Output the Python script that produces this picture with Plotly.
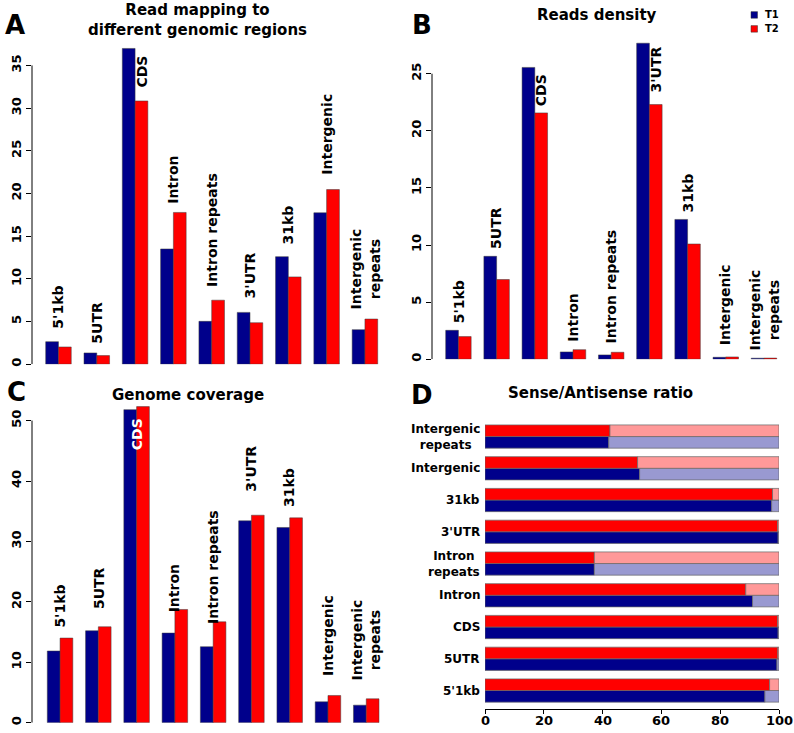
import plotly.graph_objects as go

W, H = 794, 733
FONT = "DejaVu Sans"

# ---------------- data ----------------
regions = ["5'1kb", "5UTR", "CDS", "Intron", "Intron repeats", "3'UTR",
           "31kb", "Intergenic", "Intergenic repeats"]
bar_labels = ["5'1kb", "5UTR", "CDS", "Intron", "Intron repeats", "3'UTR",
              "31kb", "Intergenic", "Intergenic<br>repeats"]
ratio_labels = ["5'1kb", "5UTR", "CDS", "Intron", "Intron<br>repeats", "3'UTR",
                "31kb", "Intergenic", "Intergenic<br>repeats"]

mapping_T1 = [2.64, 1.32, 36.99, 13.5, 5.02, 6.07, 12.6, 17.74, 4.05]
mapping_T2 = [2.02, 1.01, 30.84, 17.78, 7.5, 4.86, 10.23, 20.46, 5.29]

density_T1 = [2.53, 9.01, 25.55, 0.64, 0.38, 27.67, 12.24, 0.17, 0.09]
density_T2 = [1.98, 6.98, 21.57, 0.84, 0.61, 22.3, 10.09, 0.2, 0.1]

coverage_T1 = [11.87, 15.22, 51.81, 14.84, 12.58, 33.41, 32.31, 3.46, 2.91]
coverage_T2 = [14.01, 15.88, 52.31, 18.74, 16.7, 34.34, 33.9, 4.51, 3.96]

sense_T1 = [95.2, 99.3, 99.7, 91.0, 37.2, 99.7, 97.5, 52.6, 42.1]
sense_T2 = [96.8, 99.6, 99.5, 88.7, 37.2, 99.5, 97.8, 51.9, 42.5]

ratio_ticks = [0, 20, 40, 60, 80, 100]
series_names = ["T1", "T2"]

# ---------------- style ----------------
C_T1, C_T2 = "#00008B", "#FF0000"
C_T1_L, C_T2_L = "#9999D1", "#FF9999"
EDGE = dict(color="#3a3a3a", width=0.5)


def px_x(p):
    return p / W


def px_y(p):
    return 1 - p / H


def bold(size, color="black"):
    return dict(family=FONT, size=size, color=color, weight="bold")


fig = go.Figure()

panels = [
    ("x", "y", mapping_T1, mapping_T2),
    ("x2", "y2", density_T1, density_T2),
    ("x3", "y3", coverage_T1, coverage_T2),
]
for xa, ya, v1, v2 in panels:
    fig.add_trace(go.Bar(x=regions, y=v1, name=series_names[0], marker=dict(color=C_T1, line=EDGE),
                         xaxis=xa, yaxis=ya, showlegend=False))
    fig.add_trace(go.Bar(x=regions, y=v2, name=series_names[1], marker=dict(color=C_T2, line=EDGE),
                         xaxis=xa, yaxis=ya, showlegend=False))

# Panel D: sense (dark) + antisense (light) stacked, T1 below T2
bw = 0.366
anti_T1 = [100 - v for v in sense_T1]
anti_T2 = [100 - v for v in sense_T2]
DEDGE = dict(color="#666666", width=0.7)
fig.add_trace(go.Bar(y=regions, x=sense_T1, orientation="h", base=0, width=bw, offset=-bw,
                     marker=dict(color=C_T1, line=DEDGE), xaxis="x4", yaxis="y4", showlegend=False))
fig.add_trace(go.Bar(y=regions, x=anti_T1, orientation="h", base=sense_T1, width=bw, offset=-bw,
                     marker=dict(color=C_T1_L, line=DEDGE), xaxis="x4", yaxis="y4", showlegend=False))
fig.add_trace(go.Bar(y=regions, x=sense_T2, orientation="h", base=0, width=bw, offset=0,
                     marker=dict(color=C_T2, line=DEDGE), xaxis="x4", yaxis="y4", showlegend=False))
fig.add_trace(go.Bar(y=regions, x=anti_T2, orientation="h", base=sense_T2, width=bw, offset=0,
                     marker=dict(color=C_T2_L, line=DEDGE), xaxis="x4", yaxis="y4", showlegend=False))


def cat_range(axis_px, first_bar_px, last_bar_px, right_px):
    u = (last_bar_px - first_bar_px) / (len(regions) - 1 + 2 / 3)
    left = -1 / 3 - (first_bar_px - axis_px) / u
    right = len(regions) - 1 + 1 / 3 + (right_px - last_bar_px) / u
    return [left, right]


def val_range(zero_px, ref_val, ref_px, top_px):
    ppu = (zero_px - ref_px) / ref_val
    return [0, (zero_px - top_px) / ppu]


hid = dict(showgrid=False, zeroline=False, showline=False, showticklabels=False, ticks="")
yax = dict(showgrid=False, zeroline=False, showline=False, ticks="outside", ticklen=5,
           tickwidth=1, tickcolor="black", tickangle=-90, tickfont=bold(13))

fig.update_layout(
    width=W, height=H, margin=dict(l=0, r=0, t=0, b=0),
    paper_bgcolor="white", plot_bgcolor="white",
    barmode="group", bargap=1 / 3, bargroupgap=0,
    font=dict(family=FONT, color="black"),
    showlegend=False,
    xaxis=dict(domain=[px_x(32), px_x(392)], range=cat_range(32, 45.7, 377.7, 392), anchor="y", **hid),
    yaxis=dict(domain=[px_y(365.7), px_y(40)], range=val_range(365.7, 35, 65.7, 40), anchor="x",
               tickvals=list(range(0, 36, 5)), **yax),
    xaxis2=dict(domain=[px_x(432), px_x(790)], range=cat_range(432, 445.7, 776.7, 790), anchor="y2", **hid),
    yaxis2=dict(domain=[px_y(360.7), px_y(40)], range=val_range(360.7, 25, 74, 40), anchor="x2",
                tickvals=list(range(0, 26, 5)), **yax),
    xaxis3=dict(domain=[px_x(32), px_x(392)], range=cat_range(32, 47.3, 379, 392), anchor="y3", **hid),
    yaxis3=dict(domain=[px_y(725.7), px_y(405)], range=val_range(725.7, 50, 422.3, 405), anchor="x3",
                tickvals=list(range(0, 51, 10)), **yax),
    xaxis4=dict(domain=[px_x(485), px_x(779)], range=[0, 100], anchor="y4", showgrid=False, zeroline=False,
                showline=True, linecolor="black", linewidth=1, ticks="outside", ticklen=4,
                tickcolor="black", tickvals=ratio_ticks, showticklabels=False),
    yaxis4=dict(domain=[px_y(712), px_y(422.4)], range=[-0.585, 8.5], type="category", anchor="x4",
                categoryorder="array", categoryarray=regions, **hid),
)

# y axis lines spanning only the tick range (R style)
for ax, xp, top in [("y", 32, 35), ("y2", 432, 25), ("y3", 32, 50)]:
    fig.add_shape(type="line", xref="paper", yref=ax, x0=px_x(xp), x1=px_x(xp), y0=0, y1=top,
                  line=dict(color="black", width=1))

ann = []

# bar labels: (kind, gap px); kind 'top' = above group max, 'red' = above red bar, 'in' = inside
labels_A = [("top", 11), ("top", 7), ("red", 11), ("top", 7), ("top", 11), ("top", 12), ("top", 10), ("top", 13), ("top", 8)]
labels_B = [("top", 5), ("top", 5), ("red", 5), ("top", 6), ("top", 7), ("red", 10), ("top", 5), ("top", 10), ("top", 6)]
labels_C = [("top", 8), ("top", 16), ("in", 7), ("top", -5), ("top", -4), ("top", 22), ("top", 9), ("top", 18), ("top", 16)]

for xa, ya, v1, v2, specs in [("x", "y", mapping_T1, mapping_T2, labels_A),
                              ("x2", "y2", density_T1, density_T2, labels_B),
                              ("x3", "y3", coverage_T1, coverage_T2, labels_C)]:
    for i, (kind, gap) in enumerate(specs):
        if kind == "top":
            ann.append(dict(x=regions[i], y=max(v1[i], v2[i]), xref=xa, yref=ya, text=bar_labels[i],
                            textangle=-90, xanchor="center", yanchor="bottom", yshift=gap,
                            showarrow=False, align="center", font=bold(14)))
        elif kind == "red":
            ann.append(dict(x=regions[i], y=v2[i], xref=xa, yref=ya, text=bar_labels[i],
                            textangle=-90, xanchor="center", yanchor="bottom", yshift=gap, xshift=6.5,
                            showarrow=False, font=bold(14)))
        else:
            ann.append(dict(x=regions[i], y=min(v1[i], v2[i]), xref=xa, yref=ya, text=bar_labels[i],
                            textangle=-90, xanchor="center", yanchor="top", yshift=-gap,
                            showarrow=False, font=bold(14, "white")))

# panel D category labels
for i, lab in enumerate(ratio_labels):
    ann.append(dict(x=px_x(482), y=regions[i], xref="paper", yref="y4", text=lab, xanchor="right",
                    yanchor="middle", align="center", showarrow=False, font=bold(12)))

# panel D x tick labels (placed close to the axis, R style)
for t in ratio_ticks:
    ann.append(dict(x=t, y=px_y(732), xref="x4", yref="paper", text=str(t), xanchor="center",
                    yanchor="bottom", borderpad=0, showarrow=False, font=bold(13)))

# titles
titles = [("Read mapping to<br>different genomic regions", 197, 20.5),
          ("Reads density", 597, 15),
          ("Genome coverage", 188, 397),
          ("Sense/Antisense ratio", 600, 395)]
for t, xp, yp in titles:
    ann.append(dict(x=px_x(xp), y=px_y(yp), xref="paper", yref="paper", text=t, xanchor="center",
                    yanchor="middle", showarrow=False, font=bold(15)))

# panel letters
for t, xp, yp in [("A", 15, 25.5), ("B", 422, 25.5), ("C", 16, 394), ("D", 422, 397)]:
    ann.append(dict(x=px_x(xp), y=px_y(yp), xref="paper", yref="paper", text=t, xanchor="center",
                    yanchor="middle", showarrow=False, font=bold(26)))

# legend (top right of panel B)
for name, col, yp in [(series_names[0], C_T1, 15), (series_names[1], C_T2, 29)]:
    fig.add_shape(type="rect", xref="paper", yref="paper", x0=px_x(751), x1=px_x(757.5),
                  y0=px_y(yp + 3.3), y1=px_y(yp - 3.3), fillcolor=col, line=dict(color="#333333", width=0.5))
    ann.append(dict(x=px_x(763), y=px_y(yp), xref="paper", yref="paper", text=name, xanchor="left",
                    yanchor="middle", showarrow=False, font=bold(10)))

fig.update_layout(annotations=ann)
fig.write_html("out.html", config={"displayModeBar": False},
               post_script="document.body.style.margin='0';document.body.style.overflow='hidden';")
